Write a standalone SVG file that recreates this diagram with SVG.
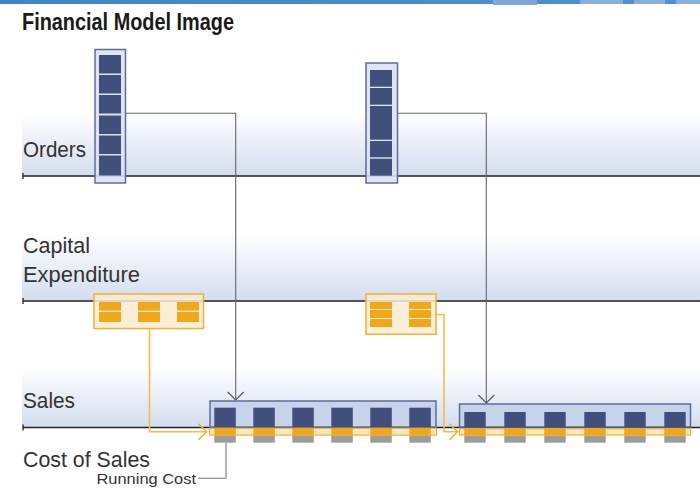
<svg xmlns="http://www.w3.org/2000/svg" width="700" height="489" viewBox="0 0 700 489">
<style>
.lbl{font-family:"Liberation Sans","DejaVu Sans",sans-serif;font-size:22px;fill:#333}
.title{font-family:"Liberation Sans","DejaVu Sans",sans-serif;font-weight:bold;font-size:23px;fill:#1a1a1a}
.small{font-family:"Liberation Sans","DejaVu Sans",sans-serif;font-size:15px;fill:#333}
.band{fill:url(#bandGrad)}
.axis{stroke:#222;stroke-width:1.3;fill:none}
.col{fill:#d9e1f1;fill-opacity:0.88;stroke:#5d6c9c;stroke-width:1.5}
.cell{fill:#404f7c}
.capbox{fill:#fbecd2;fill-opacity:0.85;stroke:#f2b035;stroke-width:1.5}
.ocell{fill:#f0a818}
.salesbox{fill:#c6d3ea;stroke:#5d6c9c;stroke-width:1.5}
.strip{fill:#fde9bd;stroke:#f2b035;stroke-width:1.2}
.gcell{fill:#9c9c9c}
.conn{stroke:#666;stroke-width:1.1;fill:none}
.oconn{stroke:#f5bb48;stroke-width:1.6;fill:none}
.lead{stroke:#777;stroke-width:1.1;fill:none}
</style>
<defs>
<linearGradient id="bandGrad" x1="0" y1="0" x2="0" y2="1">
<stop offset="0" stop-color="#ffffff"/>
<stop offset="1" stop-color="#d3ddef"/>
</linearGradient>
<linearGradient id="topGrad" x1="0" y1="0" x2="1" y2="0">
<stop offset="0" stop-color="#3f86c8"/>
<stop offset="1" stop-color="#5590cc"/>
</linearGradient>
<marker id="arrG" markerUnits="userSpaceOnUse" markerWidth="20" markerHeight="20" refX="10" refY="10" orient="auto" viewBox="0 0 20 20">
<path d="M2,2 L10,10 L2,18" fill="none" stroke="#555" stroke-width="1.2"/>
</marker>
<marker id="arrO" markerUnits="userSpaceOnUse" markerWidth="20" markerHeight="20" refX="10" refY="10" orient="auto" viewBox="0 0 20 20">
<path d="M2,2 L10,10 L2,18" fill="none" stroke="#f5b030" stroke-width="1.6"/>
</marker>
</defs>

<g id="topbar">
<rect x="0" y="0" width="700" height="4" fill="url(#topGrad)"/>
<rect x="493" y="0" width="44" height="5" fill="#7fa6d8"/>
<rect x="580" y="0" width="43" height="4" fill="#8aaedb"/>
<rect x="634" y="0" width="31" height="4" fill="#8aaedb"/>
<rect x="676" y="0" width="24" height="4" fill="#8aaedb"/>
</g>

<text class="title" x="22" y="30" textLength="212" lengthAdjust="spacingAndGlyphs">Financial Model Image</text>

<g id="bands">
<rect class="band" x="22" y="112" width="678" height="64"/>
<rect class="band" x="22" y="234" width="678" height="67"/>
<rect class="band" x="22" y="366" width="678" height="62"/>
<path class="axis" d="M23,176 H700 M23,173 V179"/>
<path class="axis" d="M23,301 H700 M23,298 V304"/>
<path class="axis" d="M23,427.5 H700 M23,424.5 V430.5"/>
</g>

<g id="labels">
<text class="lbl" x="23" y="157" textLength="63" lengthAdjust="spacingAndGlyphs">Orders</text>
<text class="lbl" x="23" y="253" textLength="67" lengthAdjust="spacingAndGlyphs">Capital</text>
<text class="lbl" x="23" y="281.5" textLength="117" lengthAdjust="spacingAndGlyphs">Expenditure</text>
<text class="lbl" x="23" y="408" textLength="52" lengthAdjust="spacingAndGlyphs">Sales</text>
<text class="lbl" x="23" y="467" textLength="127" lengthAdjust="spacingAndGlyphs">Cost of Sales</text>
</g>

<g id="connectors">
<path class="conn" d="M125,113.3 H235.7 V400" marker-end="url(#arrG)"/>
<path class="conn" d="M398,113.3 H486.3 V403" marker-end="url(#arrG)"/>
<path class="oconn" d="M149.5,328.7 V431.7 H206.5" marker-end="url(#arrO)"/>
<path class="oconn" d="M436,314.5 H444 V431.7 H457.5" marker-end="url(#arrO)"/>
<path class="lead" d="M198,478.3 H226 V442.7"/>
</g>

<g id="orders1">
<rect class="col" x="95" y="49.5" width="30.5" height="133.5"/>
<rect class="cell" x="99" y="55" width="22" height="18.5"/>
<rect class="cell" x="99" y="75" width="22" height="18.5"/>
<rect class="cell" x="99" y="95" width="22" height="18.5"/>
<rect class="cell" x="99" y="115.5" width="22" height="18.5"/>
<rect class="cell" x="99" y="135.5" width="22" height="18.5"/>
<rect class="cell" x="99" y="155.5" width="22" height="20"/>
</g>

<g id="orders2">
<rect class="col" x="366" y="63" width="31.5" height="120"/>
<rect class="cell" x="370" y="70" width="22" height="16.7"/>
<rect class="cell" x="370" y="88" width="22" height="16.7"/>
<rect class="cell" x="370" y="106" width="22" height="33.7"/>
<rect class="cell" x="370" y="141" width="22" height="16.3"/>
<rect class="cell" x="370" y="158.7" width="22" height="17"/>
</g>

<g id="capex1">
<rect class="capbox" x="94" y="294" width="109.5" height="34.5"/>
<rect class="ocell" x="99" y="302" width="22" height="8.7"/>
<rect class="ocell" x="99" y="312" width="22" height="10"/>
<rect class="ocell" x="138" y="302" width="22" height="8.7"/>
<rect class="ocell" x="138" y="312" width="22" height="10"/>
<rect class="ocell" x="177" y="302" width="22" height="8.7"/>
<rect class="ocell" x="177" y="312" width="22" height="10"/>
</g>

<g id="capex2">
<rect class="capbox" x="366" y="294" width="70" height="40.3"/>
<rect class="ocell" x="370" y="302" width="22" height="7"/>
<rect class="ocell" x="370" y="310" width="22" height="8"/>
<rect class="ocell" x="370" y="319" width="22" height="8"/>
<rect class="ocell" x="409" y="302" width="22" height="7"/>
<rect class="ocell" x="409" y="310" width="22" height="8"/>
<rect class="ocell" x="409" y="319" width="22" height="8"/>
</g>

<g id="sales1">
<rect class="salesbox" x="210" y="401" width="226" height="26"/>
<rect class="cell" x="214.3" y="407.7" width="21.5" height="19.5"/>
<rect class="cell" x="253.3" y="407.7" width="21.5" height="19.5"/>
<rect class="cell" x="292.3" y="407.7" width="21.5" height="19.5"/>
<rect class="cell" x="331.3" y="407.7" width="21.5" height="19.5"/>
<rect class="cell" x="370.3" y="407.7" width="21.5" height="19.5"/>
<rect class="cell" x="409.3" y="407.7" width="21.5" height="19.5"/>
<rect class="strip" x="209.5" y="428.3" width="227" height="6.8"/>
<g class="ocell">
<rect x="214.3" y="428" width="21.5" height="7.5"/>
<rect x="253.3" y="428" width="21.5" height="7.5"/>
<rect x="292.3" y="428" width="21.5" height="7.5"/>
<rect x="331.3" y="428" width="21.5" height="7.5"/>
<rect x="370.3" y="428" width="21.5" height="7.5"/>
<rect x="409.3" y="428" width="21.5" height="7.5"/>
</g>
<g class="gcell">
<rect x="214.3" y="435.7" width="21.5" height="7"/>
<rect x="253.3" y="435.7" width="21.5" height="7"/>
<rect x="292.3" y="435.7" width="21.5" height="7"/>
<rect x="331.3" y="435.7" width="21.5" height="7"/>
<rect x="370.3" y="435.7" width="21.5" height="7"/>
<rect x="409.3" y="435.7" width="21.5" height="7"/>
</g>
</g>

<g id="sales2">
<rect class="salesbox" x="459.5" y="404" width="231" height="23"/>
<rect class="cell" x="464.3" y="412" width="21.4" height="15.2"/>
<rect class="cell" x="504.3" y="412" width="21.4" height="15.2"/>
<rect class="cell" x="544.3" y="412" width="21.4" height="15.2"/>
<rect class="cell" x="584.3" y="412" width="21.4" height="15.2"/>
<rect class="cell" x="624.3" y="412" width="21.4" height="15.2"/>
<rect class="cell" x="664.3" y="412" width="21.4" height="15.2"/>
<rect class="strip" x="459.5" y="428.7" width="231" height="6.3"/>
<g class="ocell">
<rect x="464.3" y="428.2" width="21.4" height="7.3"/>
<rect x="504.3" y="428.2" width="21.4" height="7.3"/>
<rect x="544.3" y="428.2" width="21.4" height="7.3"/>
<rect x="584.3" y="428.2" width="21.4" height="7.3"/>
<rect x="624.3" y="428.2" width="21.4" height="7.3"/>
<rect x="664.3" y="428.2" width="21.4" height="7.3"/>
</g>
<g class="gcell">
<rect x="464.3" y="435.7" width="21.4" height="7"/>
<rect x="504.3" y="435.7" width="21.4" height="7"/>
<rect x="544.3" y="435.7" width="21.4" height="7"/>
<rect x="584.3" y="435.7" width="21.4" height="7"/>
<rect x="624.3" y="435.7" width="21.4" height="7"/>
<rect x="664.3" y="435.7" width="21.4" height="7"/>
</g>
</g>

<text class="small" x="96.5" y="484" textLength="99.5" lengthAdjust="spacingAndGlyphs">Running Cost</text>
</svg>
